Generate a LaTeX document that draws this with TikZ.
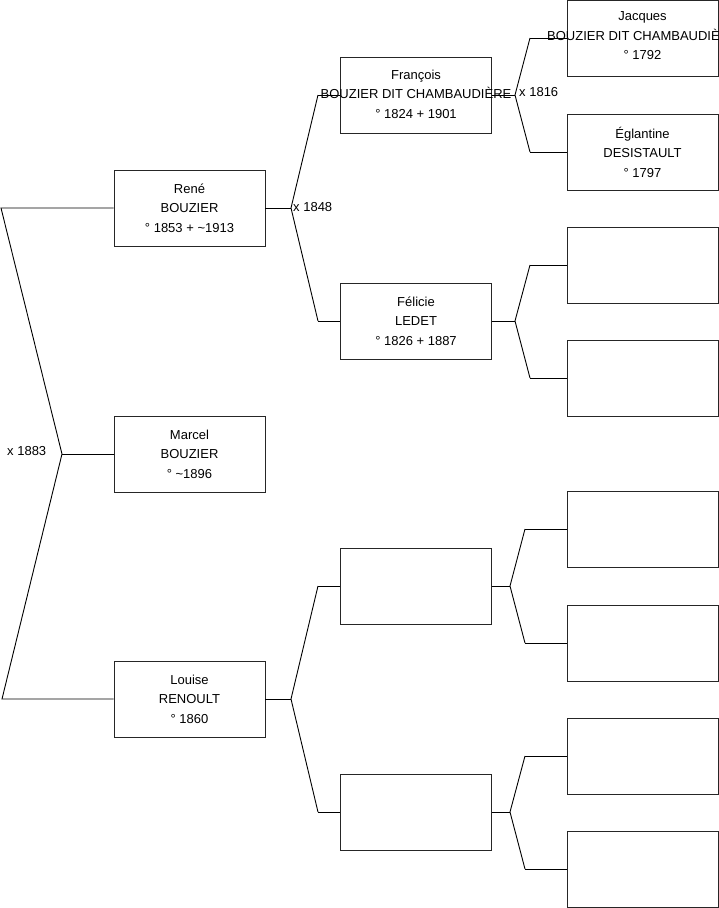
\documentclass[tikz,border=0pt]{standalone}
\usepackage{fontspec}
\setmainfont{Liberation Sans}
\begin{document}
\begin{tikzpicture}[x=1pt,y=-1pt,
  person/.style={draw=black!85,line width=0.9pt,minimum width=151pt,minimum height=76pt,inner sep=0pt,align=center,
    font=\fontsize{13}{19.5}\selectfont,fill=white},
  link/.style={draw=black,line width=0.9pt},
  marr/.style={anchor=west,inner sep=0pt,font=\fontsize{13}{15}\selectfont}]
\useasboundingbox (0,0) rectangle (719,908);
\clip (0,0) rectangle (719,908);
% coordinates
\coordinate (a1) at (1,208);
\coordinate (v0) at (62,454);
\coordinate (a2) at (2,699);
\coordinate (v1) at (291,208);
\coordinate (c1) at (318,95);
\coordinate (c2) at (318,321);
\coordinate (v4) at (291,699);
\coordinate (c3) at (318,586);
\coordinate (c4) at (318,812);
\coordinate (v2) at (515,95);
\coordinate (d1) at (530,38);
\coordinate (d2) at (530,152);
\coordinate (v3) at (515,321);
\coordinate (d3) at (530,265);
\coordinate (d4) at (530,378);
\coordinate (v5) at (510,586);
\coordinate (d5) at (525,529);
\coordinate (d6) at (525,643);
\coordinate (v6) at (510,812);
\coordinate (d7) at (525,756);
\coordinate (d8) at (525,869);
% boxes
\node[person] (rene) at (189.5,208) {René\\BOUZIER\\° 1853 + \textasciitilde1913};
\node[person] (marcel) at (189.5,454) {Marcel\\BOUZIER\\° \textasciitilde1896};
\node[person] (louise) at (189.5,699) {Louise\\RENOULT\\° 1860};
\node[person] (francois) at (416,95) {};
\node[person] (felicie) at (416,321) {Félicie\\LEDET\\° 1826 + 1887};
\node[person] (m3) at (416,586) {};
\node[person] (m4) at (416,812) {};
\node[person] (jacques) at (642.5,38) {};
\node[person] (eglantine) at (642.5,152) {Églantine\\DESISTAULT\\° 1797};
\node[person] (g3) at (642.5,265) {};
\node[person] (g4) at (642.5,378) {};
\node[person] (g5) at (642.5,529) {};
\node[person] (g6) at (642.5,643) {};
\node[person] (g7) at (642.5,756) {};
\node[person] (g8) at (642.5,869) {};
% connectors
\draw[link] (rene.west) -- (a1) -- (v0) -- (a2) -- (louise.west);
\draw[link] (v0) -- (marcel.west);
\draw[link] (rene.east) -- (v1);
\draw[link] (c1) -- (v1) -- (c2);
\draw[link] (c1) -- (francois.west);
\draw[link] (c2) -- (felicie.west);
\draw[link] (louise.east) -- (v4);
\draw[link] (c3) -- (v4) -- (c4);
\draw[link] (c3) -- (m3.west);
\draw[link] (c4) -- (m4.west);
\draw[link] (francois.east) -- (v2);
\draw[link] (d1) -- (v2) -- (d2);
\draw[link] (d1) -- (jacques.west);
\draw[link] (d2) -- (eglantine.west);
\draw[link] (felicie.east) -- (v3);
\draw[link] (d3) -- (v3) -- (d4);
\draw[link] (d3) -- (g3.west);
\draw[link] (d4) -- (g4.west);
\draw[link] (m3.east) -- (v5);
\draw[link] (d5) -- (v5) -- (d6);
\draw[link] (d5) -- (g5.west);
\draw[link] (d6) -- (g6.west);
\draw[link] (m4.east) -- (v6);
\draw[link] (d7) -- (v6) -- (d8);
\draw[link] (d7) -- (g7.west);
\draw[link] (d8) -- (g8.west);
% overflowing texts drawn above lines
\node[align=center,inner sep=0pt,font=\fontsize{13}{19.5}\selectfont] (francoistext) at ([yshift=1pt]francois.center) {François\\BOUZIER DIT CHAMBAUDIÈRE\\° 1824 + 1901};
\node[align=center,inner sep=0pt,font=\fontsize{13}{19.5}\selectfont] (jacquestext) at ([yshift=2pt]jacques.center) {Jacques\\BOUZIER DIT CHAMBAUDIÈRE\\° 1792};
% marriage labels
\node[marr] (m1848) at (293,207) {x 1848};
\node[marr] (m1816) at (519,92) {x 1816};
\node[marr] (m1883) at (7,451) {x 1883};
\end{tikzpicture}
\end{document}
